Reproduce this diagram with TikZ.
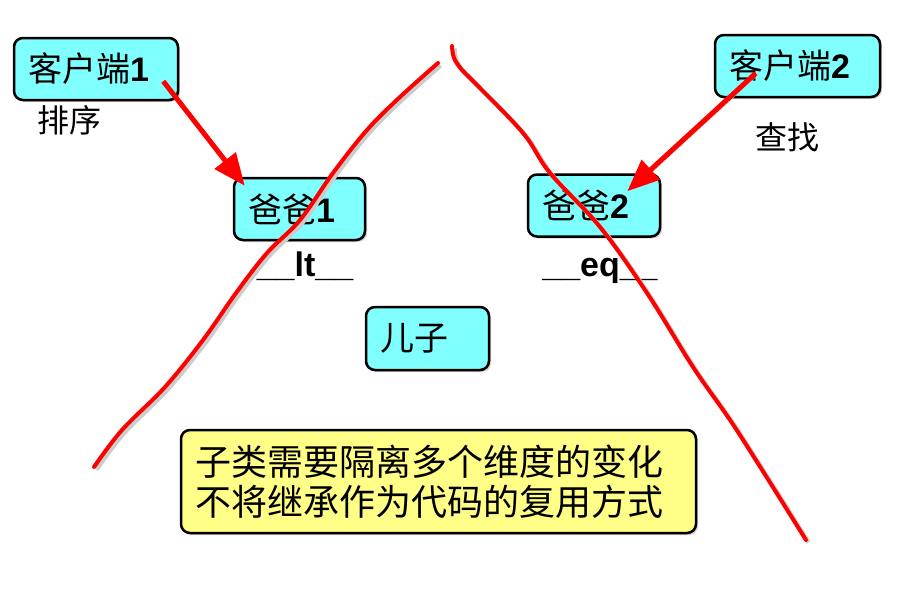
\documentclass[tikz,border=0pt]{standalone}
\usepackage{fontspec}
\setmainfont{Liberation Sans}
\newfontfamily\cjk{Noto Sans CJK SC}
\usetikzlibrary{arrows.meta,shadows}
\definecolor{boxcyan}{HTML}{80FFFF}
\definecolor{boxyellow}{HTML}{FFFF88}
\definecolor{penred}{HTML}{FF0000}
\begin{document}
\begin{tikzpicture}[x=1pt,y=-1pt,
  box/.style={draw=black, line width=2.5pt, rounded corners=9pt, fill=boxcyan,
    inner xsep=14pt, inner ysep=0pt, align=left, minimum height=62pt,
    font=\fontsize{34}{40}\selectfont,
    drop shadow={opacity=0.35, shadow xshift=2pt, shadow yshift=-2pt}},
  note/.style={box, fill=boxyellow, font=\cjk\fontsize{36}{40}\selectfont},
  lbl/.style={font=\cjk\fontsize{32}{36}\selectfont, inner sep=0pt},
  dunder/.style={font=\bfseries\fontsize{34}{40}\selectfont, inner sep=0pt, anchor=base},
  pen/.style={draw=penred, line width=4pt, line cap=round, line join=round,
    preaction={draw=black!20, line width=4.5pt, transform canvas={shift={(2.5pt,-2.5pt)}}}},
  arr/.style={draw=penred, line width=5pt, -{Triangle[length=32pt,width=26pt]},
    preaction={draw=black!20, transform canvas={shift={(2pt,-2pt)}}}}
]
\fill[white] (0,0) rectangle (908,611);
\useasboundingbox (0,0) rectangle (908,611);

\node[box, text width=136pt] (c1) at (96,69) {{\cjk 客户端}\textbf{1}};
\node[box, text width=137pt] (c2) at (797.5,66) {{\cjk 客户端}\textbf{2}};
\node[box, text width=103pt] (p1) at (299.5,209) {{\cjk 爸爸}\textbf{1}};
\node[box, text width=104pt] (p2) at (594,205.5) {{\cjk 爸爸}\textbf{2}};
\node[box, text width=95pt, minimum height=63pt] (son) at (427.5,338.5) {{\cjk 儿子}};
\node[note, text width=487pt, minimum height=103pt] (msg) at (438.5,481.5)
  {子类需要隔离多个维度的变化\\不将继承作为代码的复用方式};

\node[lbl] (sort) at (69,120) {排序};
\node[lbl] (find) at (787,137) {查找};
\node[dunder] (lt) at (305,276) {\_\_lt\_\_};
\node[dunder] (eq) at (600,276) {\_\_eq\_\_};

\draw[pen] plot[smooth, tension=0.6] coordinates {(94,467) (122,430) (165,387) (203,340) (236,293) (267,253) (300,220) (333,173) (367,130) (400,97) (438,63)};
\draw[pen] plot[smooth, tension=0.6] coordinates {(452,46) (454,58) (462,70) (476,84) (523,133) (550,173) (600,227) (647,293) (693,367) (730,420) (764,473) (806,540)};

\draw[arr] ([xshift=-16pt,yshift=20pt]c1.south east) -- ([xshift=12pt,yshift=-9pt]p1.north west);
\draw[arr] ([xshift=42pt,yshift=25pt]c2.south west) -- ([xshift=-34pt,yshift=-18pt]p2.north east);
\end{tikzpicture}
\end{document}
